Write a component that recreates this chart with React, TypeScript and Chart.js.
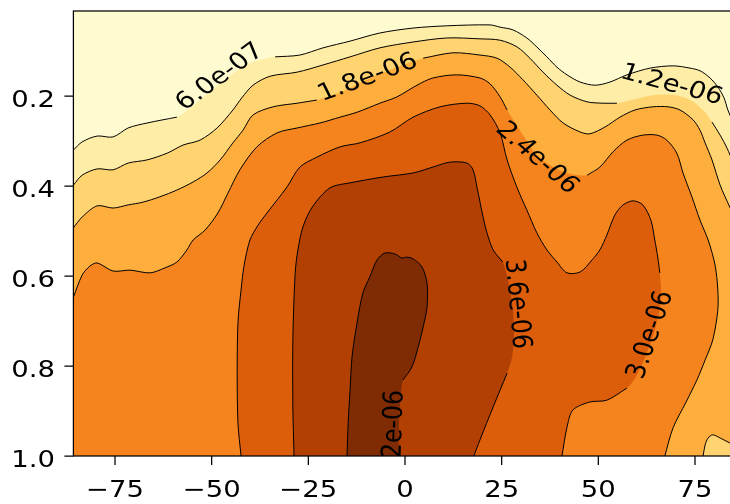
import React, { useEffect, useRef } from "react";
import { Chart, registerables } from "chart.js";

Chart.register(...registerables);

type Pt = [number, number];

// ---- axes ----
const xTicks = [-75, -50, -25, 0, 25, 50, 75];
const yTicks = [0.2, 0.4, 0.6, 0.8, 1.0];
const xLimits = [-85.76, 85.76];
const yLimits = [0.0111, 1.0];

// ---- contour levels & filled-band colours (YlOrBr) ----
const levels = [0, 6e-7, 1.2e-6, 1.8e-6, 2.4e-6, 3.0e-6, 3.6e-6, 4.2e-6, 4.8e-6];
const levelColors = ["#fffbd0", "#feeda6", "#fed370", "#feae3c", "#f5841e", "#dc5e0b", "#b24003", "#7f2c05"];

// ---- contour lines: [visible, under-label, visible] pieces, (lat, sigma) ----
const contour06: Pt[][] = [
  [[-85.76, 0.32], [-83.5, 0.302], [-79.6, 0.289], [-75.5, 0.291], [-71.6, 0.271], [-66.7, 0.26], [-59.0, 0.247]],
  [[-53.0, 0.209], [-47.3, 0.169], [-40.6, 0.129]],
  [[-33.6, 0.113], [-27.2, 0.109], [-21.2, 0.093], [-14.2, 0.078], [-6.5, 0.06], [2.1, 0.049], [10.9, 0.044],
   [22.0, 0.042], [24.6, 0.047], [27.9, 0.053], [31.5, 0.071], [34.1, 0.091], [36.7, 0.113], [39.3, 0.136],
   [41.9, 0.153], [45.3, 0.169], [49.2, 0.176], [53.0, 0.169], [57.4, 0.153], [63.4, 0.138], [69.3, 0.133],
   [73.7, 0.138], [76.3, 0.144], [78.9, 0.16], [80.9, 0.18], [82.5, 0.204], [83.5, 0.231], [84.8, 0.258], [85.76, 0.282]],
];
const contour12: Pt[][] = [
  [[-85.76, 0.398], [-83.5, 0.376], [-79.6, 0.362], [-75.5, 0.364], [-71.6, 0.349], [-66.7, 0.342], [-61.5, 0.327],
   [-57.4, 0.309], [-53.0, 0.298], [-48.6, 0.271], [-44.5, 0.231], [-42.2, 0.204], [-39.3, 0.176], [-34.9, 0.156],
   [-27.9, 0.147], [-21.2, 0.131], [-14.2, 0.113], [-6.5, 0.093], [2.1, 0.08], [10.9, 0.071], [19.4, 0.073],
   [24.6, 0.076], [29.0, 0.091], [32.3, 0.116], [35.7, 0.147], [39.3, 0.176], [42.7, 0.198], [47.1, 0.213],
   [51.2, 0.216], [54.8, 0.216]],
  [[59.5, 0.207], [64.6, 0.198], [69.8, 0.198], [74.2, 0.211], [77.6, 0.236]],
  [[79.4, 0.258], [81.5, 0.287], [83.3, 0.316], [84.8, 0.347], [85.76, 0.369]],
];
const contour18: Pt[][] = [
  [[-85.76, 0.493], [-83.5, 0.469], [-79.6, 0.444], [-75.5, 0.449], [-71.6, 0.442], [-67.8, 0.436], [-63.4, 0.424],
   [-59.0, 0.409], [-54.8, 0.391], [-51.2, 0.371], [-47.8, 0.342], [-44.5, 0.304], [-41.9, 0.276], [-39.3, 0.242],
   [-34.1, 0.224], [-27.9, 0.216], [-22.8, 0.209]],
  [[-15.5, 0.187], [-9.6, 0.162], [-2.6, 0.138]],
  [[4.7, 0.116], [12.4, 0.104], [19.4, 0.109], [23.8, 0.116], [27.2, 0.136], [30.5, 0.164], [34.1, 0.198],
   [37.5, 0.231], [40.9, 0.26], [45.3, 0.28], [47.8, 0.284], [51.7, 0.269], [55.6, 0.247], [59.5, 0.231],
   [64.1, 0.224], [68.0, 0.224], [71.1, 0.231], [74.5, 0.253], [76.3, 0.276], [77.6, 0.304], [79.4, 0.342],
   [81.5, 0.398], [84.0, 0.447], [85.76, 0.48]],
];
const contour18Corner: Pt[] = [[77.1, 1.0], [77.6, 0.976], [78.4, 0.96], [79.6, 0.953], [81.5, 0.96], [84.0, 0.971], [85.76, 0.978]];
const contour24: Pt[][] = [
  [[-85.76, 0.647], [-83.5, 0.598], [-81.5, 0.578], [-79.6, 0.571], [-75.5, 0.589], [-71.1, 0.587], [-65.9, 0.593],
   [-62.1, 0.582], [-59.0, 0.569], [-56.4, 0.542], [-54.8, 0.52], [-51.7, 0.498], [-48.4, 0.46], [-45.8, 0.416],
   [-42.7, 0.364], [-38.3, 0.313], [-33.1, 0.282], [-27.9, 0.271], [-22.0, 0.26], [-16.8, 0.247], [-12.4, 0.236],
   [-6.5, 0.216], [-2.1, 0.202], [3.1, 0.176], [7.2, 0.16], [13.4, 0.153], [19.4, 0.16], [22.0, 0.173],
   [24.6, 0.202], [26.4, 0.231]],
  [[29.7, 0.276], [34.1, 0.331], [38.8, 0.36], [42.7, 0.373]],
  [[47.1, 0.376], [50.4, 0.358], [53.8, 0.324], [57.4, 0.298], [61.5, 0.287], [65.2, 0.287], [67.7, 0.298],
   [70.3, 0.327], [71.9, 0.371], [74.2, 0.424], [76.3, 0.476], [78.4, 0.52], [80.2, 0.576], [80.9, 0.631],
   [80.9, 0.676], [79.6, 0.742], [77.6, 0.787], [75.5, 0.831], [72.7, 0.88], [69.3, 0.938], [67.2, 1.0]],
];
const contour30: Pt[][] = [
  [[-42.4, 1.0], [-43.2, 0.927], [-43.4, 0.816], [-43.2, 0.704], [-42.4, 0.631], [-41.6, 0.576], [-40.1, 0.52],
   [-38.0, 0.487], [-35.7, 0.46], [-30.5, 0.402], [-27.2, 0.358], [-22.8, 0.336], [-16.8, 0.313], [-11.6, 0.304],
   [-3.9, 0.28], [2.1, 0.247], [9.1, 0.224], [16.0, 0.216], [19.4, 0.222], [22.0, 0.242], [24.6, 0.282],
   [26.4, 0.342], [29.0, 0.404], [31.5, 0.453], [34.1, 0.504], [36.7, 0.542], [39.3, 0.569], [41.9, 0.593],
   [45.3, 0.591], [48.4, 0.564], [50.4, 0.542], [52.2, 0.509], [54.3, 0.464], [56.4, 0.442], [59.0, 0.433],
   [61.5, 0.442], [63.6, 0.476], [64.6, 0.52], [65.4, 0.56], [65.9, 0.593]],
  [[66.2, 0.653], [64.6, 0.72], [62.1, 0.78], [59.5, 0.827]],
  [[57.4, 0.849], [52.2, 0.876], [47.8, 0.88], [43.4, 0.898], [41.9, 0.936], [40.6, 1.0]],
];
const contour36: Pt[][] = [
  [[-28.7, 1.0], [-29.0, 0.891], [-29.0, 0.742], [-28.4, 0.593], [-27.7, 0.542], [-26.4, 0.491], [-24.0, 0.447],
   [-19.4, 0.404], [-14.2, 0.393], [-5.7, 0.38], [2.1, 0.371], [7.2, 0.358], [11.6, 0.347], [16.0, 0.349],
   [17.6, 0.364], [18.6, 0.402], [20.2, 0.469], [21.2, 0.504], [22.8, 0.542], [25.3, 0.569]],
  [[26.9, 0.62], [27.9, 0.676], [28.2, 0.731], [27.7, 0.78]],
  [[26.4, 0.816], [22.8, 0.891], [19.4, 0.964], [17.8, 1.0]],
];
const contour42: Pt[][] = [
  [[-15.0, 1.0], [-14.7, 0.927], [-14.2, 0.853], [-13.7, 0.78], [-12.4, 0.704], [-10.9, 0.638], [-9.1, 0.602],
   [-7.2, 0.564], [-5.2, 0.549], [-2.6, 0.551], [-0.8, 0.56], [0.5, 0.558], [2.1, 0.562], [4.4, 0.58],
   [5.7, 0.616], [5.7, 0.669], [4.7, 0.713], [3.4, 0.758], [1.8, 0.802], [-0.5, 0.831]],
  [[-1.3, 0.887], [-1.6, 0.942]],
  [[-1.6, 1.0]],
];

// ---- inline contour labels ----
const labelTexts = ["6.0e-07", "1.8e-06", "1.2e-06", "2.4e-06", "3.0e-06", "3.6e-06", "4.2e-06"];
const labelLat = [-47.8, -9.6, 68.9, 34.1, 63.6, 28.9, -2.8];
const labelSigma = [0.158, 0.16, 0.176, 0.338, 0.731, 0.662, 0.954];
const labelAngle = [-36, -20, 15, 41, -71, 85, -88];

const FS = 23.5;
const STRETCH = 1.17;
const FONT = `${FS}px 'DejaVu Sans', sans-serif`;
const TENSION = 0.3;

const toXY = (pts: Pt[]) => pts.map(([x, y]) => ({ x, y }));
const flat = (c: Pt[][]) => c.flat() as Pt[];
// duplicate a vertex so the smoothed outline keeps a sharp corner there
const sharp = (p: Pt): Pt[] => [p, p];

function stretchedText(ctx: CanvasRenderingContext2D, t: string, x: number, y: number, angleDeg: number) {
  const th = (angleDeg * Math.PI) / 180;
  const th0 = Math.atan2(STRETCH * Math.sin(th), Math.cos(th));
  ctx.save();
  ctx.translate(x, y);
  ctx.scale(STRETCH, 1);
  ctx.rotate(th0);
  ctx.fillText(t, 0, 0);
  ctx.restore();
}

const decor = {
  id: "decor",
  afterDatasetsDraw(chart: any) {
    const { ctx, chartArea: a, scales } = chart;
    ctx.save();
    ctx.beginPath();
    ctx.rect(a.left, a.top, a.right - a.left, a.bottom - a.top);
    ctx.clip();
    ctx.font = FONT;
    ctx.fillStyle = "#000";
    ctx.textAlign = "center";
    ctx.textBaseline = "middle";
    labelTexts.forEach((t, i) => {
      const px = scales.x.getPixelForValue(labelLat[i]);
      const py = scales.y.getPixelForValue(labelSigma[i]);
      stretchedText(ctx, t, px, py, labelAngle[i]);
    });
    ctx.restore();
  },
  afterDraw(chart: any) {
    const { ctx, chartArea: a, scales } = chart;
    ctx.save();
    ctx.strokeStyle = "#000";
    ctx.lineWidth = 1.25;
    ctx.strokeRect(a.left, a.top, a.right - a.left, a.bottom - a.top);
    ctx.beginPath();
    xTicks.forEach((v) => {
      const px = scales.x.getPixelForValue(v);
      ctx.moveTo(px, a.bottom);
      ctx.lineTo(px, a.bottom + 9);
    });
    yTicks.forEach((v) => {
      const py = scales.y.getPixelForValue(v);
      ctx.moveTo(a.left, py);
      ctx.lineTo(a.left - 9, py);
    });
    ctx.stroke();
    ctx.fillStyle = "#000";
    ctx.font = FONT;
    ctx.textBaseline = "alphabetic";
    ctx.textAlign = "center";
    xTicks.forEach((v) => {
      const px = scales.x.getPixelForValue(v);
      const t = v < 0 ? "\u2212" + Math.abs(v) : String(v);
      stretchedText(ctx, t, px, a.bottom + 41, 0);
    });
    ctx.textAlign = "right";
    yTicks.forEach((v) => {
      const py = scales.y.getPixelForValue(v);
      stretchedText(ctx, v.toFixed(1), a.left - 18.5, py + 10.6, 0);
    });
    ctx.restore();
  },
};

export default function App() {
  const ref = useRef<HTMLCanvasElement | null>(null);
  useEffect(() => {
    if (!ref.current) return;
    const [x0, x1] = xLimits;
    const [y0, yb] = yLimits;
    const closeTo = (c: Pt[][], tail: Pt[]): Pt[] => {
      const f = flat(c);
      return [...f, ...sharp(f[f.length - 1]), ...tail.flatMap(sharp)];
    };
    const cornerRev = contour18Corner.slice().reverse();
    const polys: Pt[][] = [
      [[x0, y0], [x1, y0], [x1, yb], [x0, yb]],
      closeTo(contour06, [[x1, yb], [x0, yb]]),
      closeTo(contour12, [[x1, yb], [x0, yb]]),
      [...closeTo(contour18, []), ...sharp(cornerRev[0]), ...cornerRev.slice(1, -1), ...sharp(cornerRev[cornerRev.length - 1]), ...sharp([x0, yb])],
      closeTo(contour24, [[x0, yb]]),
      flat(contour30),
      flat(contour36),
      flat(contour42),
    ];
    const fillSets = polys.map((p, i) => ({
      label: "band " + levels[i],
      data: toXY(p),
      showLine: true,
      fill: "shape",
      backgroundColor: levelColors[i],
      borderColor: "rgba(0,0,0,0)",
      borderWidth: 0,
      pointRadius: 0,
      pointHoverRadius: 0,
      tension: i === 0 ? 0 : TENSION,
      order: 100 - i,
    }));
    const pieces: Pt[][] = [];
    [contour06, contour12, contour18, contour24, contour30, contour36, contour42].forEach((c) =>
      c.forEach((p, i) => {
        if (i % 2 === 0 && p.length > 1) pieces.push(p);
      })
    );
    pieces.push(contour18Corner);
    const lineSets = pieces.map((p) => ({
      label: "line",
      data: toXY(p),
      showLine: true,
      fill: false,
      borderColor: "#000",
      borderWidth: 1,
      pointRadius: 0,
      pointHoverRadius: 0,
      tension: TENSION,
      order: 0,
    }));
    const chart = new Chart(ref.current, {
      type: "scatter",
      data: { datasets: [...fillSets, ...lineSets] as any },
      options: {
        responsive: false,
        animation: false,
        events: [],
        layout: { padding: { left: 73.4, right: 23.4, top: 11, bottom: 48 } },
        scales: {
          x: { type: "linear", min: x0, max: x1, display: false },
          y: { type: "linear", min: y0, max: yb, reverse: true, display: false },
        },
        plugins: { legend: { display: false }, tooltip: { enabled: false } },
      },
      plugins: [decor],
    });
    return () => chart.destroy();
  }, []);
  return (
    <div style={{ position: "fixed", left: 0, top: 0, width: 730, height: 504, overflow: "hidden", background: "#fff" }}>
      <canvas ref={ref} width={760} height={504} style={{ display: "block" }} />
    </div>
  );
}
